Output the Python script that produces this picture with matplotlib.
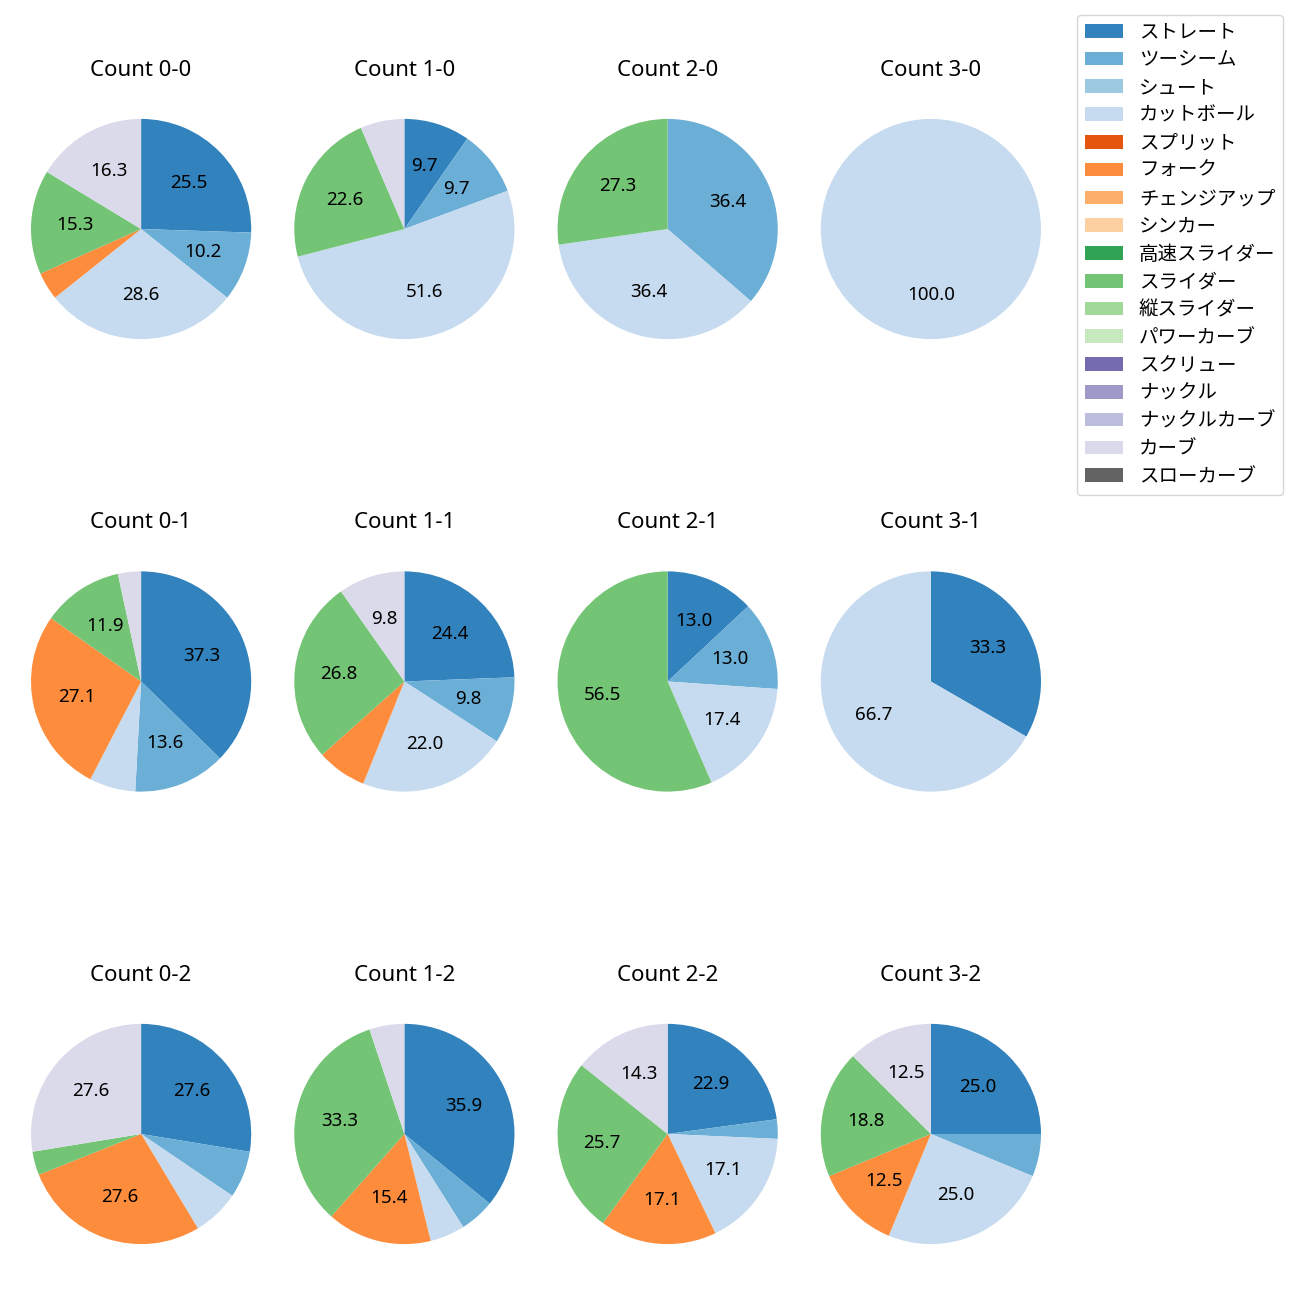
import matplotlib
matplotlib.use('Agg')
import matplotlib.pyplot as plt
from matplotlib.patches import Patch

plt.rcParams['font.family'] = ['Noto Sans', 'Noto Sans CJK JP', 'DejaVu Sans']

# ------------------------------------------------------------------
# Data (pitch counts per ball-strike count)
# ------------------------------------------------------------------
PITCH_TYPES = ['ストレート', 'ツーシーム', 'シュート', 'カットボール', 'スプリット',
               'フォーク', 'チェンジアップ', 'シンカー', '高速スライダー', 'スライダー',
               '縦スライダー', 'パワーカーブ', 'スクリュー', 'ナックル', 'ナックルカーブ',
               'カーブ', 'スローカーブ']

COUNT_LABELS = ['Count 0-0', 'Count 1-0', 'Count 2-0', 'Count 3-0',
                'Count 0-1', 'Count 1-1', 'Count 2-1', 'Count 3-1',
                'Count 0-2', 'Count 1-2', 'Count 2-2', 'Count 3-2']

straight = [25, 3, 0, 0, 22, 10, 3, 1, 8, 14, 8, 4]
two_seam = [10, 3, 4, 0, 8, 4, 3, 0, 2, 2, 1, 1]
cutter   = [28, 16, 4, 1, 4, 9, 4, 2, 2, 2, 6, 4]
fork     = [4, 0, 0, 0, 16, 3, 0, 0, 8, 6, 6, 2]
slider   = [15, 7, 3, 0, 7, 11, 13, 0, 1, 13, 9, 3]
curve    = [16, 2, 0, 0, 2, 4, 0, 0, 8, 2, 5, 2]

SERIES = {
    'ストレート': straight,
    'ツーシーム': two_seam,
    'カットボール': cutter,
    'フォーク': fork,
    'スライダー': slider,
    'カーブ': curve,
}

cmap = plt.get_cmap('tab20c')
COLORS = {name: cmap(i) for i, name in enumerate(PITCH_TYPES)}


def autopct(pct):
    return f'{pct:.1f}' if pct > 8 else ''


# ------------------------------------------------------------------
# Plot
# ------------------------------------------------------------------
fig, axes = plt.subplots(3, 4, figsize=(13, 13), dpi=100)
fig.subplots_adjust(left=31 / 1300, right=1041 / 1300, wspace=43 / 220,
                    top=1 - 79 / 1300, bottom=16 / 1300, hspace=0.508)

for k, ax in enumerate(axes.flat):
    names = [p for p in PITCH_TYPES if p in SERIES and SERIES[p][k] > 0]
    vals = [SERIES[p][k] for p in names]
    cols = [COLORS[p] for p in names]
    ax.pie(vals, colors=cols, startangle=90, counterclock=False,
           autopct=autopct, pctdistance=0.6, textprops={'fontsize': 13.5})
    ax.set_xlim(-1, 1)
    ax.set_ylim(-1, 1)
    ax.set_title(COUNT_LABELS[k], fontsize=16, pad=31)

handles = [Patch(facecolor=COLORS[p], label=p) for p in PITCH_TYPES]
fig.legend(handles=handles, loc='upper left', labelspacing=0.4,
           bbox_to_anchor=(1067 / 1300, 1 - 5 / 1300), fontsize=14)

plt.savefig('out.png', dpi=100)
plt.close()
